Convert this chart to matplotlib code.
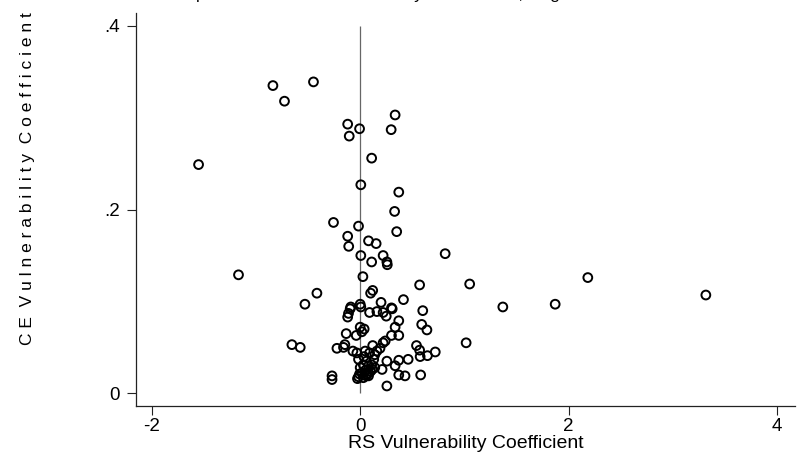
import matplotlib
matplotlib.use("Agg")
import matplotlib.pyplot as plt

plt.rcParams["font.family"] = ["Liberation Sans", "DejaVu Sans"]

# RS (x) and CE (y) vulnerability coefficients
rs_coef = [
    -1.55, -0.837, -0.726, -0.448, -0.12, -0.105, -0.006, 0.335, 0.297, 0.11,
    0.006, 0.37, 0.33, -0.256, -0.016, 0.35, -0.12, -0.11, 0.08, 0.153,
    0.006, 0.22, 0.11, 0.256, 0.26, 0.815, -1.167, 0.026, 0.57, 1.05,
    2.183, 1.87, 1.368, 3.315, 1.016, -0.415, -0.53, 0.12, 0.10, -0.09,
    -0.096, -0.112, -0.12, 0.0, 0.006, 0.09, 0.16, 0.20, 0.415, 0.22,
    0.25, 0.30, 0.60, 0.37, 0.59, 0.64, 0.335, 0.30, 0.37, 0.0,
    0.038, 0.016, -0.038, -0.134, -0.147, -0.16, -0.223, -0.07, -0.032, -0.655,
    -0.575, -0.27, -0.27, 0.256, 0.048, 0.22, 0.24, 0.19, 0.16, 0.14,
    0.13, 0.11, 0.10, 0.54, 0.57, 0.575, 0.645, 0.72, 0.46, 0.37,
    0.335, 0.256, 0.21, 0.37, 0.43, 0.58, -0.016, 0.0, 0.03, 0.08,
    0.14, 0.016, 0.064, 0.115, -0.016, 0.03, 0.08, 0.307, 0.035, 0.06,
    0.09, 0.05, 0.12, -0.026, -0.006, 0.058, 0.08,
]
ce_coef = [
    0.249, 0.335, 0.318, 0.339, 0.293, 0.280, 0.288, 0.303, 0.287, 0.256,
    0.227, 0.219, 0.198, 0.186, 0.182, 0.176, 0.171, 0.160, 0.166, 0.163,
    0.150, 0.150, 0.143, 0.143, 0.140, 0.152, 0.129, 0.127, 0.118, 0.119,
    0.126, 0.097, 0.094, 0.107, 0.055, 0.109, 0.097, 0.112, 0.109, 0.094,
    0.092, 0.087, 0.083, 0.097, 0.094, 0.088, 0.089, 0.099, 0.102, 0.088,
    0.084, 0.093, 0.090, 0.079, 0.075, 0.069, 0.072, 0.063, 0.063, 0.072,
    0.070, 0.067, 0.063, 0.065, 0.053, 0.050, 0.049, 0.046, 0.044, 0.053,
    0.050, 0.019, 0.015, 0.008, 0.046, 0.055, 0.057, 0.049, 0.046, 0.042,
    0.037, 0.031, 0.024, 0.052, 0.047, 0.040, 0.041, 0.045, 0.037, 0.036,
    0.030, 0.035, 0.026, 0.020, 0.019, 0.020, 0.037, 0.028, 0.031, 0.030,
    0.028, 0.022, 0.021, 0.026, 0.018, 0.017, 0.019, 0.092, 0.040, 0.035,
    0.044, 0.025, 0.052, 0.016, 0.021, 0.019, 0.022,
]

x_ticks = [-2, 0, 2, 4]
x_tick_labels = ["-2", "0", "2", "4"]
y_ticks = [0, 0.2, 0.4]
y_tick_labels = ["0", ".2", ".4"]

fig = plt.figure(figsize=(8.0, 4.59), dpi=100)
ax = fig.add_axes([136 / 800, 53 / 459, 659 / 800, 393 / 459])

# reference line at zero RS coefficient
ax.vlines(0, 0, 0.4, colors="#666666", linewidth=0.9, zorder=1)

ax.scatter(rs_coef, ce_coef, s=40, facecolors="none", edgecolors="black",
           linewidths=1.4, zorder=2)

ax.set_xlim(-2.15, 4.17)
ax.set_ylim(-0.0138, 0.414)

for side in ("top", "right"):
    ax.spines[side].set_visible(False)
for side in ("left", "bottom"):
    ax.spines[side].set_linewidth(0.9)
    ax.spines[side].set_color("#222222")

ax.set_xticks(x_ticks)
ax.set_xticklabels(x_tick_labels)
ax.set_yticks(y_ticks)
ax.set_yticklabels(y_tick_labels)
ax.tick_params(axis="both", direction="out", length=6.5, width=0.8,
               color="#222222", labelsize=13.5)
ax.tick_params(axis="x", pad=2)
ax.tick_params(axis="y", pad=5)

ax.set_xlabel("RS Vulnerability Coefficient", fontsize=14, labelpad=0)

ylab = "C E  V u l n e r a b i l i t y  C o e f f i c i e n t"
fig.text(28 / 800, (459 - 179) / 459, ylab, rotation=90, ha="center",
         va="center", fontsize=12.5)

# title sits above the top edge of the canvas
fig.text(141 / 800, 1.0 + 0.5 / 459,
         "Scatterplot of CE vs RS Vulnerability Coefficients, wage",
         ha="left", va="baseline", fontsize=12.5)

fig.savefig("out.png", dpi=100)
